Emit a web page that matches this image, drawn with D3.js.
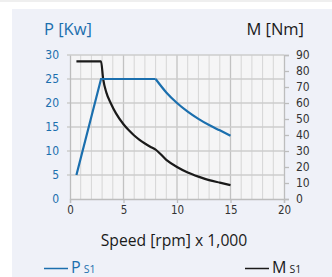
<!DOCTYPE html>
<html>
<head>
<meta charset="utf-8">
<script src="https://cdn.jsdelivr.net/npm/d3@7"></script>
<style>
  html, body { margin: 0; padding: 0; background: #fff; }
  svg { display: block; }
</style>
</head>
<body>
<div id="chart"></div>
<script>
// speed in 1,000 rpm
const powerSpeed = [0.6, 2.9, 8, 9, 10, 11, 12, 13, 14, 15];
const powerKw    = [5, 25, 25, 22.2, 20, 18.2, 16.7, 15.4, 14.3, 13.2];

const torqueSpeed = [0.6, 2.9, 3.1, 3.4, 3.8, 4.3, 5, 5.5, 6, 6.5, 7, 7.5, 8, 9, 10, 11, 12, 13, 14, 15];
const torqueNm    = [86, 86, 75, 66.5, 60, 53.5, 46.7, 42.9, 39.7, 37, 34.7, 32.7, 30.9, 24.5, 20, 16.6, 14, 11.8, 10.2, 8.7];

const speedTicks = [0, 5, 10, 15, 20];
const powerTicks = [0, 5, 10, 15, 20, 25, 30];
const torqueTicks = [0, 10, 20, 30, 40, 50, 60, 70, 80, 90];

const width = 332, height = 277;
const blue = "#1b6fae", dark = "#1a1a1a", grey = "#333";
const tickFont = "'Liberation Sans Narrow', 'DejaVu Sans Condensed', sans-serif";
const textFont = "'Open Sans', 'Noto Sans', sans-serif";

const svg = d3.select("#chart").append("svg")
  .attr("width", width)
  .attr("height", height);

// panel
svg.append("rect").attr("x", 0).attr("y", 0)
  .attr("width", width).attr("height", 2)
  .attr("fill", "#efefef");
svg.append("rect").attr("x", 12).attr("y", 9)
  .attr("width", width - 12).attr("height", height - 9)
  .attr("fill", "#eff1f8");

const x = d3.scaleLinear().domain([0, 20]).range([70, 284]);
const yP = d3.scaleLinear().domain([0, 30]).range([199, 55]);
const yM = d3.scaleLinear().domain([0, 90]).range([199, 55]);

svg.append("rect")
  .attr("x", x(0)).attr("y", yP(30))
  .attr("width", x(20) - x(0)).attr("height", yP(0) - yP(30))
  .attr("fill", "#f5f5f6");

// grid
const grid = svg.append("g");
grid.selectAll("line.minor")
  .data(d3.range(1, 20).filter(d => d % 5 !== 0))
  .join("line").attr("class", "minor")
  .attr("x1", d => x(d)).attr("x2", d => x(d))
  .attr("y1", yP(30)).attr("y2", yP(0))
  .attr("stroke", "#d6d6d6").attr("stroke-width", 1);
grid.selectAll("line.major")
  .data([5, 10, 15])
  .join("line").attr("class", "major")
  .attr("x1", d => x(d)).attr("x2", d => x(d))
  .attr("y1", yP(30)).attr("y2", yP(0))
  .attr("stroke", "#c2c2c2").attr("stroke-width", 1.3);
grid.selectAll("line.h")
  .data(powerTicks.slice(1))
  .join("line").attr("class", "h")
  .attr("x1", x(0) - 3).attr("x2", x(20))
  .attr("y1", d => yP(d)).attr("y2", d => yP(d))
  .attr("stroke", "#cdcdcd").attr("stroke-width", 1.3);

// axes
const axisCol = "#bdbdbd";
const bottom = svg.append("g").attr("transform", `translate(0,${yP(0)})`)
  .call(d3.axisBottom(x).tickValues(speedTicks).tickSize(4).tickPadding(3));
const left = svg.append("g").attr("transform", `translate(${x(0)},0)`)
  .call(d3.axisLeft(yP).tickValues(powerTicks).tickSize(0).tickPadding(11));
const right = svg.append("g").attr("transform", `translate(${x(20)},0)`)
  .call(d3.axisRight(yM).tickValues(torqueTicks).tickSize(5).tickPadding(7));

[bottom, left, right].forEach(g => {
  g.select(".domain").attr("stroke", axisCol).attr("stroke-width", 1.3);
  g.selectAll(".tick line").attr("stroke", axisCol).attr("stroke-width", 1.3);
  g.selectAll("text").attr("font-family", tickFont).attr("font-size", 12);
});
bottom.selectAll("text").attr("fill", grey).attr("font-size", 11.5);
left.selectAll("text").attr("fill", blue);
right.selectAll("text").attr("fill", grey);

// lines
const powerPts = powerSpeed.map((s, i) => [s, powerKw[i]]);
const torquePts = torqueSpeed.map((s, i) => [s, torqueNm[i]]);

svg.append("path")
  .attr("d", d3.line().x(d => x(d[0])).y(d => yM(d[1])).curve(d3.curveMonotoneX)(torquePts))
  .attr("fill", "none").attr("stroke", dark).attr("stroke-width", 2.2);

svg.append("path")
  .attr("d", d3.line().x(d => x(d[0])).y(d => yP(d[1])).curve(d3.curveMonotoneX)(powerPts.slice(2)))
  .attr("fill", "none").attr("stroke", blue).attr("stroke-width", 2.2);
svg.append("path")
  .attr("d", d3.line().x(d => x(d[0])).y(d => yP(d[1]))(powerPts.slice(0, 3)))
  .attr("fill", "none").attr("stroke", blue).attr("stroke-width", 2.2);

// titles
svg.append("text").attr("x", 44).attr("y", 34.5)
  .attr("font-family", textFont).attr("font-size", 16.5).attr("fill", blue)
  .text("P [Kw]");
svg.append("text").attr("x", 304).attr("y", 34.5).attr("text-anchor", "end")
  .attr("font-family", textFont).attr("font-size", 16.5).attr("fill", dark)
  .text("M [Nm]");
svg.append("text").attr("x", 174).attr("y", 246).attr("text-anchor", "middle")
  .attr("font-family", textFont).attr("font-size", 15.7).attr("fill", dark)
  .text("Speed [rpm] x 1,000");

// legend
const legend = [
  { x: 44, label: "P", color: blue },
  { x: 245, label: "M", color: dark }
];
legend.forEach(l => {
  svg.append("line")
    .attr("x1", l.x).attr("x2", l.x + 24)
    .attr("y1", 268.5).attr("y2", 268.5)
    .attr("stroke", l.color).attr("stroke-width", 1.5);
  const t = svg.append("text").attr("x", l.x + 27).attr("y", 273)
    .attr("font-family", textFont).attr("fill", l.color);
  t.append("tspan").attr("font-size", 16).text(l.label);
  t.append("tspan").attr("font-size", 10.5).attr("dx", 3).text("S1");
});
</script>
</body>
</html>
